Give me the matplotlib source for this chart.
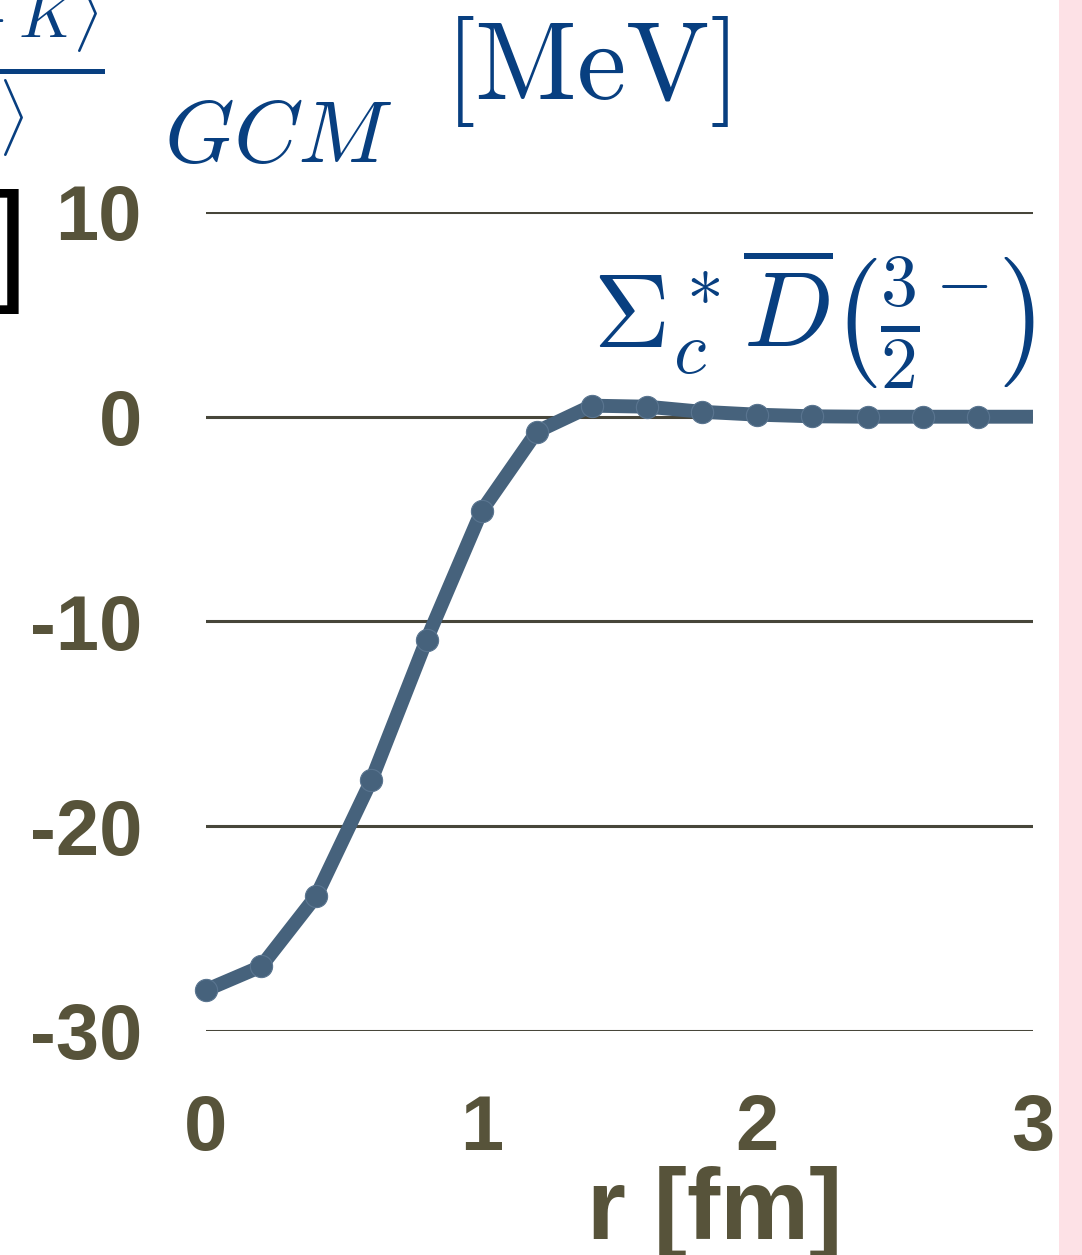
"""Potential curve for the Sigma_c* Dbar (3/2^-) channel from the GCM calculation."""
import matplotlib

matplotlib.use("Agg")
import matplotlib.pyplot as plt
from matplotlib.patches import Rectangle

# radial grid [fm] and potential [MeV]
r_fm = [0.0, 0.2, 0.4, 0.6, 0.8, 1.0, 1.2, 1.4, 1.6, 1.8, 2.0, 2.2, 2.4, 2.6, 2.8, 3.0]
v_mev = [-28.0, -26.85, -23.4, -17.75, -10.9, -4.6, -0.73, 0.54, 0.49, 0.24,
         0.1, 0.02, 0.0, 0.0, 0.0, 0.0]

x_ticks = [0, 1, 2, 3]
y_ticks = [-30, -20, -10, 0, 10]

LINE_COLOR = "#46627c"
TICK_COLOR = "#57533a"
GRID_COLOR = "#47463a"
MATH_BLUE = "#083f80"

plt.rcParams["mathtext.fontset"] = "cm"
plt.rcParams["font.family"] = ["Liberation Sans Narrow", "Liberation Sans", "DejaVu Sans"]

fig = plt.figure(figsize=(10.82, 12.55), dpi=100)
ax = fig.add_axes([0.1904, 0.1785, 0.7643, 0.6526])

ax.plot(r_fm, v_mev, color=LINE_COLOR, lw=10, solid_capstyle="butt",
        marker="o", ms=16, markevery=list(range(len(r_fm) - 1)),
        markeredgecolor="#5a7590", markeredgewidth=0.8, zorder=3, clip_on=False)

ax.set_xlim(0, 3)
ax.set_ylim(-30, 10)
ax.set_xticks(x_ticks)
ax.set_yticks(y_ticks)
ax.set_xticklabels([str(t) for t in x_ticks])
ax.set_yticklabels([str(t) for t in y_ticks])
ax.tick_params(length=0, labelsize=56, labelcolor=TICK_COLOR)
ax.tick_params(axis="y", pad=46)
ax.tick_params(axis="x", pad=45)
for lab in ax.get_xticklabels() + ax.get_yticklabels():
    lab.set_fontweight("bold")

ax.yaxis.grid(True, color=GRID_COLOR, lw=2.2)
ax.set_axisbelow(True)
for side in ax.spines.values():
    side.set_visible(False)

ax.set_xlabel("r [fm]", fontsize=72, fontweight="bold", color=TICK_COLOR)
ax.xaxis.set_label_coords(0.615, -0.165)

# channel label
ax.text(0.468, 0.87, r"$\Sigma_c^*\overline{D}\left(\frac{3}{2}^{-}\right)$",
        transform=ax.transAxes, fontsize=76, color=MATH_BLUE, ha="left", va="center")

# y-axis quantity, partly outside the page
fig.text(-0.128, 0.947, r"$\frac{\langle H+K\rangle}{\langle 1\rangle}$", fontsize=66,
         color=MATH_BLUE, ha="left", va="center")
fig.text(0.152, 0.889, r"$GCM$", fontsize=64, color=MATH_BLUE, ha="left", va="center")
fig.text(0.41, 0.943, r"$[\mathrm{MeV}]$", fontsize=80, color=MATH_BLUE, ha="left", va="center")
fig.text(-0.008, 0.80, "]", fontsize=96, color="black", ha="left", va="center")

# pink slide margin on the right
fig.patches.append(Rectangle((0.979, 0), 0.021, 1, transform=fig.transFigure,
                             facecolor="#fde1e6", edgecolor="none"))

fig.savefig("out.png", dpi=100)
